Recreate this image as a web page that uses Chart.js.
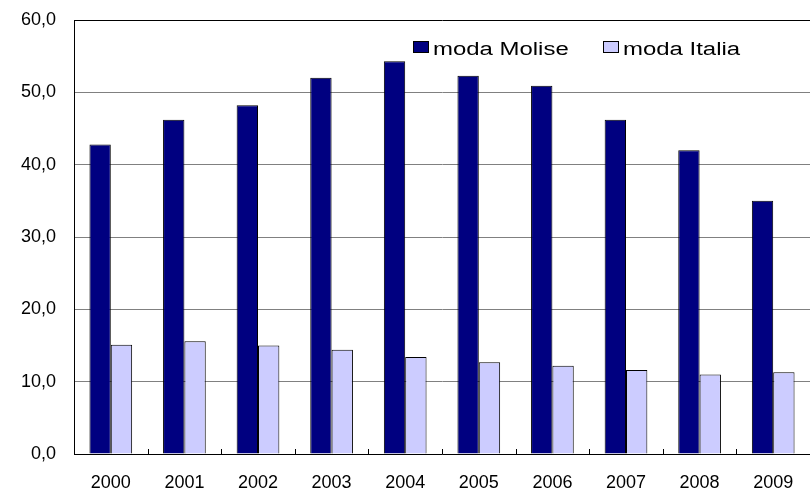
<!DOCTYPE html>
<html lang="it">
<head>
<meta charset="UTF-8">
<title>moda Molise / moda Italia</title>
<script src="https://cdn.jsdelivr.net/npm/chart.js"></script>
<style>
  html, body { margin: 0; padding: 0; background: #fff; }
  #wrap { width: 810px; height: 490px; }
</style>
</head>
<body>
<div id="wrap"><canvas id="chart" width="810" height="490"></canvas></div>
<script>
// anni e valori
const anni = ['2000', '2001', '2002', '2003', '2004', '2005', '2006', '2007', '2008', '2009'];
const modaMolise = [42.8, 46.2, 48.2, 52.0, 54.3, 52.3, 50.9, 46.2, 42.0, 35.0];
const modaItalia = [15.1, 15.6, 15.0, 14.4, 13.4, 12.7, 12.2, 11.6, 11.0, 11.3];
const yTicks = [0, 10, 20, 30, 40, 50, 60];

const FONT = 'Liberation Sans, Arial, sans-serif';

// piccole tacche verso l'interno tra le categorie
const tacche = {
  id: 'tacche',
  afterDraw(chart) {
    const x = chart.scales.x, ctx = chart.ctx;
    const bottom = chart.chartArea.bottom;
    ctx.save();
    ctx.strokeStyle = '#000';
    ctx.lineWidth = 1;
    ctx.beginPath();
    for (let i = 1; i < anni.length; i++) {
      const px = Math.round((x.getPixelForTick(i - 1) + x.getPixelForTick(i)) / 2) + 0.5;
      ctx.moveTo(px, bottom - 5);
      ctx.lineTo(px, bottom);
    }
    ctx.stroke();
    ctx.restore();
  }
};

// legenda dentro l'area del grafico
const legenda = {
  id: 'legenda',
  afterDraw(chart) {
    const ctx = chart.ctx;
    const voci = chart.data.datasets.map(d => ({ testo: d.label, colore: d.backgroundColor }));
    const pos = [413, 603];
    ctx.save();
    ctx.font = '18px ' + FONT;
    ctx.textBaseline = 'alphabetic';
    voci.forEach((v, i) => {
      const x0 = pos[i];
      ctx.fillStyle = v.colore;
      ctx.fillRect(x0, 41, 16, 12);
      ctx.strokeStyle = '#000';
      ctx.lineWidth = 1;
      ctx.strokeRect(x0 + 0.5, 41.5, 15, 11);
      ctx.save();
      ctx.translate(x0 + 20, 55);
      ctx.scale(1.33, 1);
      ctx.fillStyle = '#000';
      ctx.fillText(v.testo, 0, 0);
      ctx.restore();
    });
    ctx.restore();
  }
};

new Chart(document.getElementById('chart').getContext('2d'), {
  type: 'bar',
  data: {
    labels: anni,
    datasets: [{
      label: 'moda Molise',
      data: modaMolise,
      backgroundColor: '#000080',
      borderColor: '#000',
      borderWidth: 1,
      categoryPercentage: 0.58,
      barPercentage: 1.0
    }, {
      label: 'moda Italia',
      data: modaItalia,
      backgroundColor: '#ccccff',
      borderColor: '#000',
      borderWidth: 1,
      categoryPercentage: 0.58,
      barPercentage: 1.0
    }]
  },
  options: {
    responsive: false,
    animation: false,
    layout: { padding: { top: 20, right: 0, left: 0, bottom: 0 } },
    plugins: {
      legend: { display: false },
      tooltip: { enabled: false }
    },
    scales: {
      x: {
        grid: { display: false },
        border: { display: true, color: '#000', width: 1 },
        ticks: {
          color: '#000',
          font: { family: FONT, size: 18 },
          padding: 10,
          maxRotation: 0
        },
        afterFit(s) { s.height = 36; }
      },
      y: {
        min: 0,
        max: 60,
        afterBuildTicks(s) { s.ticks = yTicks.map(v => ({ value: v })); },
        grid: {
          color: ctx => (ctx.tick && ctx.tick.value === 60) ? '#000' : '#808080',
          drawTicks: false,
          lineWidth: 1
        },
        border: { display: true, color: '#000', width: 1 },
        ticks: {
          color: '#000',
          font: { family: FONT, size: 18 },
          padding: 18,
          callback: v => v.toFixed(1).replace('.', ',')
        },
        afterFit(s) {
          s.width = 74;
          s.paddingTop = 0;
          s.paddingBottom = 0;
        }
      }
    }
  },
  plugins: [tacche, legenda]
});
</script>
</body>
</html>
